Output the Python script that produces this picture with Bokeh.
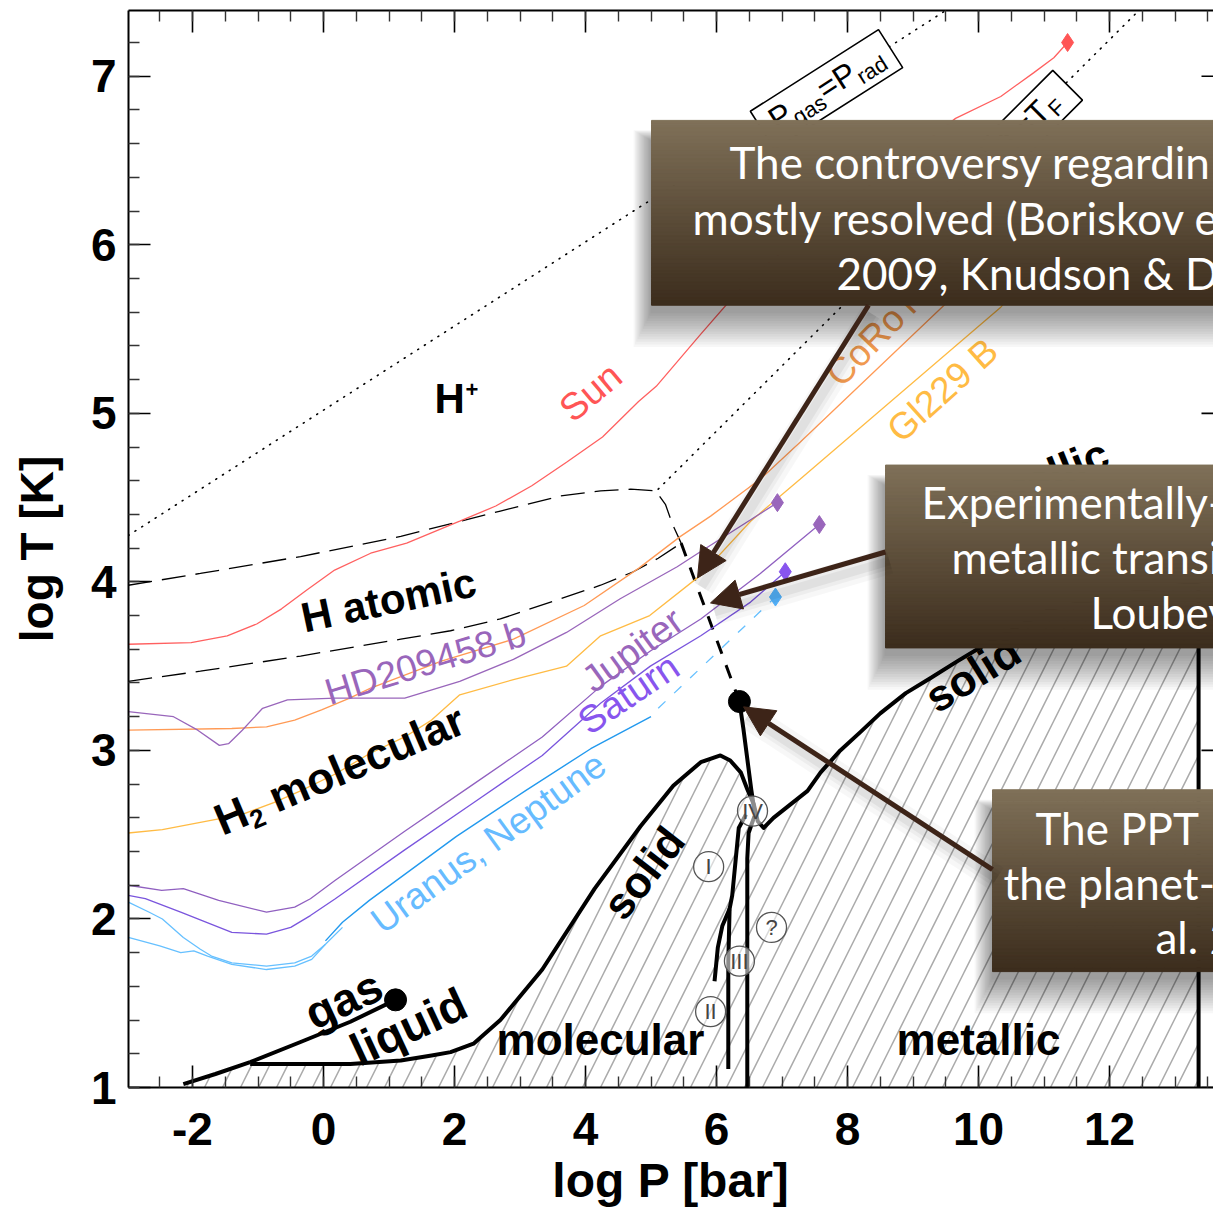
import numpy as np
from bokeh.plotting import figure
from bokeh.models import Range1d, LinearAxis, FixedTicker, Arrow, NormalHead
from bokeh.core.properties import value
from bokeh.embed import file_html
from bokeh.resources import INLINE

# ------------------------------------------------------------------ data
x_major = [-2, 0, 2, 4, 6, 8, 10, 12]
x_labels = ["-2", "0", "2", "4", "6", "8", "10", "12"]
y_major = [1, 2, 3, 4, 5, 6, 7]
y_labels = ["1", "2", "3", "4", "5", "6", "7"]

# interior profiles (log P [bar], log T [K])
sun_P = [-2.98, -2.02, -1.47, -1.02, -0.64, -0.26, 0.17, 0.72, 1.27, 2.08, 2.63, 3.18, 3.71,
         4.26, 4.81, 5.08, 5.76, 6.50, 7.30, 8.50, 9.65, 10.34, 10.84, 11.15, 11.36]
sun_T = [3.63, 3.64, 3.68, 3.75, 3.84, 3.95, 4.07, 4.17, 4.23, 4.36, 4.45, 4.57, 4.71,
         4.86, 5.07, 5.16, 5.47, 5.80, 6.05, 6.40, 6.75, 6.88, 7.02, 7.11, 7.20]

hd_P = [-2.98, -2.29, -1.92, -1.59, -1.45, -1.24, -0.93, -0.55, 0.18, 1.24, 2.08, 2.90, 3.71, 4.53, 5.40, 5.76, 6.93]
hd_T = [3.23, 3.20, 3.12, 3.03, 3.04, 3.12, 3.25, 3.30, 3.31, 3.31, 3.41, 3.54, 3.70, 3.90, 4.09, 4.18, 4.47]

jup_P = [-2.98, -2.47, -2.14, -1.60, -0.87, -0.44, -0.20, 0.18, 1.24, 2.29, 3.34, 4.23, 4.99, 5.76, 6.67, 7.57]
jup_T = [2.20, 2.17, 2.18, 2.11, 2.04, 2.07, 2.12, 2.23, 2.52, 2.80, 3.08, 3.38, 3.59, 3.78, 4.05, 4.34]

sat_P = [-2.98, -2.72, -2.18, -1.40, -0.87, -0.50, -0.20, 0.18, 1.24, 2.29, 3.34, 4.23, 4.99, 5.76, 6.52, 7.05]
sat_T = [2.14, 2.12, 2.04, 1.92, 1.91, 1.95, 2.02, 2.12, 2.41, 2.69, 2.97, 3.28, 3.50, 3.68, 3.88, 4.06]

ura_P = [-2.98, -2.66, -2.46, -2.14, -1.88, -1.71, -1.40, -0.87, -0.44, -0.18, 0.03, 0.29]
ura_T = [2.10, 2.04, 2.00, 1.89, 1.82, 1.78, 1.74, 1.72, 1.74, 1.78, 1.85, 1.95]
nep_P = [-2.98, -2.50, -2.18, -1.98, -1.77, -1.40, -0.87, -0.44, -0.18, 0.03]
nep_T = [1.89, 1.84, 1.80, 1.81, 1.78, 1.73, 1.70, 1.72, 1.76, 1.85]
un_P = [0.03, 0.29, 0.70, 2.03, 3.08, 4.08, 5.00]
un_T = [1.87, 1.98, 2.11, 2.49, 2.76, 3.01, 3.20]
un_ext_P = [5.11, 6.90]
un_ext_T = [3.25, 3.91]

corot_P = [-2.98, -1.40, -0.87, -0.44, -0.03, 0.40, 0.72, 1.80, 2.90, 3.98, 4.81, 5.45, 5.91, 6.67, 7.28, 9.47, 10.20]
corot_T = [3.12, 3.13, 3.14, 3.18, 3.24, 3.31, 3.37, 3.53, 3.66, 3.86, 4.08, 4.27, 4.39, 4.61, 4.83, 5.64, 5.95]

gl_P = [-2.98, -2.46, -1.66, -1.24, -0.76, -0.35, 0.18, 0.70, 1.24, 1.65, 2.08, 2.90, 3.71, 4.23, 4.98, 5.76, 6.52, 7.28, 10.34, 10.60]
gl_T = [2.51, 2.53, 2.59, 2.62, 2.69, 2.76, 2.86, 2.98, 3.08, 3.18, 3.33, 3.42, 3.50, 3.68, 3.80, 4.04, 4.36, 4.61, 5.63, 5.74]

# end points of the profiles (diamonds)
tip_P = [11.36, 6.93, 7.57, 7.05, 6.90]
tip_T = [7.20, 4.47, 4.34, 4.06, 3.91]
tip_C = ["#ff5555", "#9966bb", "#9966bb", "#8855ee", "#55b5ff"]

# hydrogen phase boundaries
hup_P = [-2.98, -1.88, -0.35, 1.18, 2.70, 3.62, 4.23, 4.69, 5.07, 5.22, 5.33, 5.46]
hup_T = [3.98, 4.05, 4.15, 4.27, 4.42, 4.51, 4.54, 4.55, 4.54, 4.46, 4.34, 4.23]
hlo_P = [-2.98, -1.88, -0.35, 1.18, 1.94, 2.70, 3.62, 4.23, 4.73, 5.11, 5.46]
hlo_T = [3.41, 3.47, 3.56, 3.66, 3.71, 3.78, 3.90, 3.98, 4.06, 4.14, 4.23]
ppt_P = [5.46, 6.35]
ppt_T = [4.23, 3.29]

crit_P = [1.10, 6.35]
crit_T = [1.52, 3.29]

subl_P = [-2.14, -1.65, -1.12]
subl_T = [1.02, 1.08, 1.15]
lg_P = [-1.12, -0.35, 0.41, 1.10]
lg_T = [1.15, 1.27, 1.39, 1.52]
melt_P = [-1.12, -0.35, 0.41, 1.18, 1.65, 1.94, 2.29, 2.70, 3.34, 4.14, 4.84, 5.34, 5.76, 6.06, 6.21,
          6.37, 6.47, 6.57, 6.63, 6.72, 6.87, 7.13, 7.39, 7.59, 7.89, 8.20, 8.50, 8.89, 9.27, 9.68,
          10.11, 11.10, 12.63, 13.36]
melt_T = [1.14, 1.14, 1.14, 1.16, 1.19, 1.21, 1.26, 1.40, 1.70, 2.18, 2.55, 2.79, 2.93, 2.97, 2.94,
          2.87, 2.77, 2.68, 2.58, 2.54, 2.60, 2.68, 2.76, 2.87, 3.00, 3.11, 3.22, 3.34, 3.43, 3.53,
          3.63, 3.84, 3.96, 3.99]
vert_P = [13.36, 13.36]
vert_T = [3.99, 1.00]
ivl_P = [6.35, 6.41, 6.47, 6.53, 6.58]
ivl_T = [3.29, 3.13, 2.95, 2.77, 2.64]
phr_P = [6.58, 6.49, 6.47, 6.47]
phr_T = [2.61, 2.51, 2.36, 1.00]
phl_P = [6.45, 6.34, 6.29, 6.24, 6.20, 6.18, 6.18]
phl_T = [2.62, 2.54, 2.34, 2.14, 2.06, 1.75, 1.11]
phb_P = [6.20, 6.09, 6.02, 5.97]
phb_T = [2.06, 1.96, 1.83, 1.63]

roman = ["I", "II", "III", "IV", "?"]
roman_P = [5.88, 5.91, 6.35, 6.55, 6.84]
roman_T = [2.31, 1.45, 1.75, 2.64, 1.95]

# reference lines: P_gas = P_rad and T = T_F
prad_P = [-2.98, 9.62]
prad_T = [4.275, 7.42]
tf_P = [5.11, 12.50]
tf_T = [4.55, 7.41]

# ------------------------------------------------------------------ layout
W, H = 1213, 1209
L, R, T, B = 128, 1213, 10, 1088
KX, KY = 65.5, 168.7
XMIN = -195.0 / KX
XMAX = XMIN + (R - L) / KX
YMIN = 1.0
YMAX = YMIN + (B - T) / KY


def D(px, py):
    return XMIN + (px - L) / KX, YMIN + (B - py) / KY


FONT = "Liberation Sans"
BFONT = "Lato"

p = figure(width=W, height=H, x_range=Range1d(XMIN, XMAX), y_range=Range1d(YMIN, YMAX),
           output_backend="svg", toolbar_location=None,
           min_border_left=L, min_border_right=0, min_border_top=T, min_border_bottom=H - B)
p.grid.visible = False
p.outline_line_color = None
p.background_fill_color = "white"
p.border_fill_color = "white"

x_minor = [v / 2 for v in range(-6, 28)]
y_minor = [1 + v / 5 for v in range(0, 33)]

xa = p.xaxis[0]
xa.ticker = FixedTicker(ticks=x_major, minor_ticks=x_minor)
xa.major_label_overrides = {v: s for v, s in zip(x_major, x_labels)}
xa.axis_label = "log P [bar]"
top = LinearAxis(ticker=FixedTicker(ticks=x_major, minor_ticks=x_minor))
top.major_label_overrides = {v: "" for v in x_major}
top.major_label_text_font_size = "8px"
top.major_label_standoff = 0
p.add_layout(top, "above")

ya = p.yaxis[0]
ya.ticker = FixedTicker(ticks=y_major, minor_ticks=y_minor)
ya.major_label_overrides = {v: s for v, s in zip(y_major, y_labels)}
ya.axis_label = "log T [K]"

for ax in [xa, top, ya]:
    ax.major_tick_in = 22
    ax.major_tick_out = 0
    ax.minor_tick_in = 11
    ax.minor_tick_out = 0
    ax.major_tick_line_width = 1.6
    ax.minor_tick_line_width = 1.4
    ax.major_tick_line_color = "black"
    ax.minor_tick_line_color = "#333333"
    ax.axis_line_width = 2
    ax.axis_line_color = "black"
    ax.major_label_text_font = FONT
    ax.major_label_text_font_style = "bold"
    ax.major_label_text_color = "black"
    ax.axis_label_text_font = FONT
    ax.axis_label_text_font_style = "bold"
    ax.axis_label_text_color = "black"
xa.major_label_text_font_size = "46px"
ya.major_label_text_font_size = "46px"
xa.axis_label_text_font_size = "48px"
ya.axis_label_text_font_size = "46px"
xa.major_label_standoff = 25
xa.axis_label_standoff = 6
ya.major_label_standoff = 12
ya.axis_label_standoff = 25

# right-hand axis ticks peeking in at the window edge
p.segment(x0=[D(1201, 0)[0]] * len(y_major), x1=[XMAX + 0.5] * len(y_major),
          y0=y_major, y1=y_major, line_color="black", line_width=1.6)

# hatched solid region
hatch_P = [subl_P[0]] + subl_P + melt_P[1:] + [vert_P[0], subl_P[0]]
hatch_T = [1.0] + subl_T + melt_T[1:] + [1.0, 1.0]
p.patch(hatch_P, hatch_T, fill_alpha=0, line_color=None,
        hatch_pattern="/", hatch_color="#aaaaaa", hatch_scale=36, hatch_weight=1.5)

# reference dotted lines
p.line(prad_P, prad_T, line_color="black", line_width=1.6, line_dash="1 7", line_cap="round")
p.line(tf_P, tf_T, line_color="black", line_width=1.6, line_dash="1 7", line_cap="round")

# H / H+ / H2 boundaries
p.line(hup_P, hup_T, line_color="black", line_width=1.3, line_dash="24 10")
p.line(hlo_P, hlo_T, line_color="black", line_width=1.3, line_dash="24 10")
p.line(ppt_P, ppt_T, line_color="black", line_width=3, line_dash="14 12")

# profiles
p.line(sun_P, sun_T, line_color="#ff6060", line_width=1.3)
p.line(corot_P, corot_T, line_color="#ff9a55", line_width=1.3)
p.line(gl_P, gl_T, line_color="#ffbb44", line_width=1.3)
p.line(hd_P, hd_T, line_color="#9966bb", line_width=1.3)
p.line(jup_P, jup_T, line_color="#9060c0", line_width=1.3)
p.line(sat_P, sat_T, line_color="#7a55dd", line_width=1.3)
p.line(ura_P, ura_T, line_color="#66c0ff", line_width=1.3)
p.line(nep_P, nep_T, line_color="#66c0ff", line_width=1.3)
p.line(un_P, un_T, line_color="#2299ee", line_width=1.4)
p.line(un_ext_P, un_ext_T, line_color="#66c0ff", line_width=1.3, line_dash="10 12")
p.scatter(tip_P, tip_T, marker="diamond", size=18, fill_color=tip_C, line_color=tip_C)

# phase diagram (thick black)
for xs, ys in [(subl_P, subl_T), (lg_P, lg_T), (melt_P, melt_T), (vert_P, vert_T),
               (ivl_P, ivl_T), (phr_P, phr_T), (phl_P, phl_T), (phb_P, phb_T)]:
    p.line(xs, ys, line_color="black", line_width=4, line_join="round")
p.scatter(crit_P, crit_T, marker="circle", size=22, fill_color="black", line_color="black")

# numbered phases
p.scatter(roman_P, roman_T, marker="circle", size=30, fill_color="white", fill_alpha=0.55,
          line_color="#555555", line_width=1.3)
p.text(roman_P, roman_T, text=roman, text_font=value(FONT), text_font_size="22px",
       text_color="#444444", text_align="center", text_baseline="middle")


def txt(px, py, s, ang, size, color="black", bold=False, align="center", font=FONT):
    x, y = D(px, py)
    p.text([x], [y], text=[s], angle=np.radians(ang), text_font=value(font),
           text_font_size=f"{size}px", text_font_style="bold" if bold else "normal",
           text_color=color, text_align=align, text_baseline="middle")


def pieces(px, py, ang, items, font=FONT):
    """(px, py): left end of the text's middle line; items: text, size, perpendicular shift, bold, width."""
    a = np.radians(ang)
    ux, uy = np.cos(a), -np.sin(a)
    vx, vy = np.sin(a), np.cos(a)
    adv = 0.0
    for s, size, shift, bold, width in items:
        sx = px + ux * adv + vx * shift
        sy = py + uy * adv + vy * shift
        txt(sx, sy, s, ang, size, "black", bold, align="left", font=font)
        adv += width


def start(cx, cy, ang, half):
    a = np.radians(ang)
    return cx - half * np.cos(a), cy + half * np.sin(a)


# region labels
pieces(434, 398, 0, [("H", 42, 0, True, 31), ("+", 22, -9, True, 12)])
txt(388, 600, "H atomic", 12, 42, bold=True)
pieces(216, 822, 23, [("H", 44, 0, True, 32), ("2", 26, 13, True, 27), ("molecular", 44, 0, True, 0)])
txt(343, 1000, "gas", 25, 46, bold=True)
txt(408, 1027, "liquid", 25, 46, bold=True)
txt(600, 1040, "molecular", 0, 44, bold=True)
txt(978, 1040, "metallic", 0, 44, bold=True)
txt(643, 873, "solid", 52, 44, bold=True)
txt(972, 674, "solid", 32, 44, bold=True)
txt(1030, 482, "metallic", 22, 44, bold=True)

# object labels
txt(590, 392, "Sun", 40, 38, "#ff5555")
txt(425, 663, "HD209458 b", 17, 37, "#9966bb")
txt(632, 650, "Jupiter", 36, 38, "#9966bb")
txt(628, 694, "Saturn", 34, 38, "#8855ee")
txt(488, 843, "Uranus, Neptune", 36, 37, "#66bbff")
txt(832, 380, "CoRoT-3b", 46, 37, "#f0994f", align="left")
txt(942, 390, "Gl229 B", 42, 37, "#ffbb44")

# boxed labels on the dotted lines
xb, yb = D(826, 89)
p.rect([xb], [yb], width=152, height=45, angle=np.radians(32.5), width_units="screen",
       height_units="screen", fill_color="white", line_color="black", line_width=1.6)
sx, sy = start(826, 89, 32.5, 64)
pieces(sx, sy, 32.5, [("P", 32, -2, False, 21), ("gas", 22, 8, False, 36),
                      ("=P", 32, -2, False, 40), ("rad", 22, 8, False, 32)])
xb, yb = D(1030, 122)
p.rect([xb], [yb], width=105, height=42, angle=np.radians(45), width_units="screen",
       height_units="screen", fill_color="white", line_color="black", line_width=1.6)
sx, sy = start(1030, 122, 45, 36)
pieces(sx, sy, 45, [("T=T", 32, -2, False, 58), ("F", 22, 8, False, 14)])

# ------------------------------------------------------------------ callout boxes
C0 = (128, 113, 89)
C1 = (60, 45, 29)


def callout(px0, py0, py1, lines):
    xl = D(px0, 0)[0]
    for k in range(14):
        e = 2.6 * k
        p.quad(left=[D(px0 - 1 - 0.5 * e, 0)[0]], right=[XMAX + 1], top=[D(0, py0 + 20 - 0.3 * e)[1]],
               bottom=[D(0, py1 + 8 + e)[1]], fill_color="black", fill_alpha=0.03, line_color=None)
    n = 48
    tops, bots, cols = [], [], []
    for i in range(n):
        ya_ = py0 + (py1 - py0) * i / n
        yb_ = py0 + (py1 - py0) * (i + 1) / n
        t = (i + 0.5) / n
        c = tuple(int(C0[j] + (C1[j] - C0[j]) * t) for j in range(3))
        cols.append("#%02x%02x%02x" % c)
        tops.append(D(0, ya_)[1])
        bots.append(D(0, yb_)[1])
    p.quad(left=[xl] * n, right=[XMAX + 1] * n, top=tops, bottom=bots,
           fill_color=cols, line_color=cols, line_width=1)
    for s, lx, my in lines:
        txt(lx, my, s, 0, 44, "white", align="left", font=BFONT)


callout(651, 120, 305, [("The controversy regardin", 729, 162),
                        ("mostly resolved (Boriskov e", 692, 218),
                        ("2009, Knudson & D", 836, 273)])
callout(885, 465, 648, [("Experimentally-", 921, 502),
                        ("metallic transi", 951, 557),
                        ("Loubey", 1090, 612)])
callout(992, 790, 972, [("The PPT", 1035, 828),
                        ("the planet-", 1003, 883),
                        ("al. 2", 1155, 937)])

# arrows
AC = "#3d2418"
for sx0, sy0, sx1, sy1 in [(868, 305, 697, 578), (885, 552, 710, 603), (992, 870, 743, 707)]:
    x0, y0 = D(sx0, sy0)
    x1, y1 = D(sx1, sy1)
    ox, oy = D(sx0 + 4, sy0 + 9)
    ex, ey = D(sx1 + 4, sy1 + 9)
    for w, al in [(26, 0.03), (16, 0.04), (9, 0.05)]:
        p.line([ox, ex], [oy, ey], line_color="black", line_alpha=al, line_width=w)
    p.add_layout(Arrow(end=NormalHead(size=30, fill_color=AC, line_color=AC),
                       x_start=x0, y_start=y0, x_end=x1, y_end=y1,
                       line_color=AC, line_width=5))

open("out.html", "w").write(file_html(p, INLINE))
